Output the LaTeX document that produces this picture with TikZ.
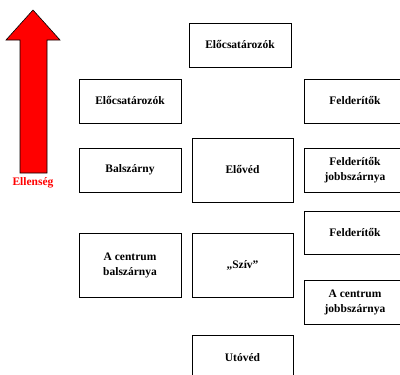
\documentclass[tikz,border=0pt]{standalone}
\usepackage{fontspec}
\setmainfont{Liberation Serif}
\definecolor{arrowred}{RGB}{255,0,0}

\begin{document}
\begin{tikzpicture}[x=1pt,y=-1pt,
  box/.style={draw, line width=0.8pt, minimum width=102pt, minimum height=44pt,
    inner sep=0pt, align=center, font=\bfseries\fontsize{11.5}{15}\selectfont},
  tall/.style={box, minimum height=64pt}]
\clip (0,0) rectangle (400,375);

% the enemy arrow
\filldraw[fill=arrowred, draw=black, line width=0.6pt] (33,10) -- (6,40) -- (20,40)
   -- (20,173) -- (47,173) -- (47,40) -- (60,40) -- cycle;
\node[text=arrowred, font=\bfseries\fontsize{11.5}{13}\selectfont] (enemy) at (33,183) {Ellenség};

% left column
\node[box] (l1) at (130,101) {Előcsatározók};
\node[box] (l2) at (130,170) {Balszárny};
\node[tall] (l3) at (130,265) {A centrum\\balszárnya};

% middle column
\node[box] (m0) at (240,45) {Előcsatározók};
\node[tall, minimum width=101pt] (m1) at (242.5,170) {Elővéd};
\node[tall, minimum width=101pt] (m2) at (242.5,265) {„Szív”};
\node[box, minimum width=101pt, minimum height=46pt] (m3) at (242.5,358) {Utóvéd};

% right column
\node[box] (r1) at (355,101) {Felderítők};
\node[box] (r2) at (355,170) {Felderítők\\jobbszárnya};
\node[box, minimum height=43pt] (r3) at (355,232.5) {Felderítők};
\node[box] (r4) at (355,302) {A centrum\\jobbszárnya};

\end{tikzpicture}
\end{document}
